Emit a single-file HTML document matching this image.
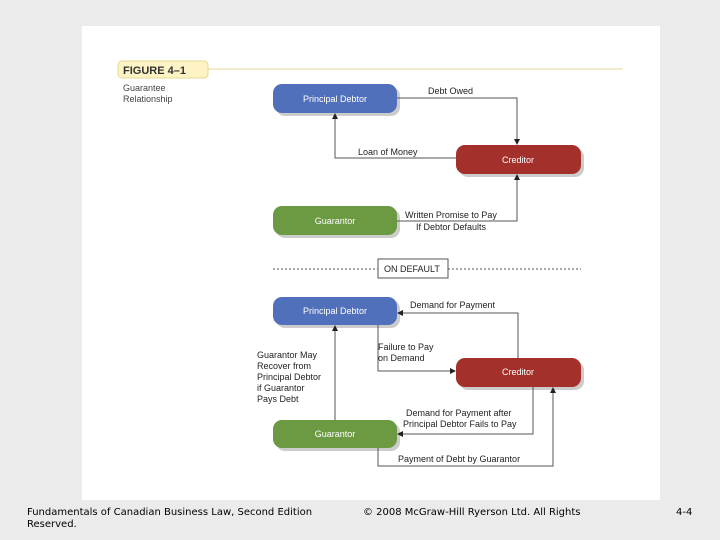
<!DOCTYPE html>
<html><head><style>
body{margin:0;width:720px;height:540px;background:#ebebeb;overflow:hidden;position:relative;font-family:"DejaVu Sans","Liberation Sans",sans-serif}
.f{position:absolute;font-size:10px;color:#000;line-height:12px}
</style></head><body>
<svg width="720" height="540" style="position:absolute;left:0;top:0">
<defs><marker id="a" markerWidth="6" markerHeight="6" refX="5" refY="3" orient="auto"><path d="M0,0L6,3L0,6z" fill="#222"/></marker></defs>
<rect x="82" y="26" width="578" height="474" fill="#fff"/>
<rect x="118" y="61" width="90" height="17" rx="4" fill="#fdf3c4" stroke="#e6d890"/>
<line x1="208" y1="69" x2="623" y2="69" stroke="#e6d890"/>
<text x="123" y="74" font-family="Liberation Sans" font-weight="bold" font-size="11" fill="#333">FIGURE 4–1</text>
<text x="123" y="91" font-family="Liberation Sans" font-size="9" fill="#444">Guarantee</text>
<text x="123" y="102" font-family="Liberation Sans" font-size="9" fill="#444">Relationship</text>
<g font-family="Liberation Sans" font-size="9" fill="#fff" text-anchor="middle">
<rect x="276" y="87" width="124" height="29" rx="9" fill="#ccc"/><rect x="273" y="84" width="124" height="29" rx="9" fill="#5170bb"/><text x="335" y="102">Principal Debtor</text>
<rect x="459" y="148" width="125" height="29" rx="9" fill="#ccc"/><rect x="456" y="145" width="125" height="29" rx="9" fill="#a3302a"/><text x="518" y="163">Creditor</text>
<rect x="276" y="209" width="124" height="29" rx="9" fill="#ccc"/><rect x="273" y="206" width="124" height="29" rx="9" fill="#6b9a42"/><text x="335" y="224">Guarantor</text>
<rect x="276" y="300" width="124" height="28" rx="9" fill="#ccc"/><rect x="273" y="297" width="124" height="28" rx="9" fill="#5170bb"/><text x="335" y="314">Principal Debtor</text>
<rect x="459" y="361" width="125" height="29" rx="9" fill="#ccc"/><rect x="456" y="358" width="125" height="29" rx="9" fill="#a3302a"/><text x="518" y="375">Creditor</text>
<rect x="276" y="423" width="124" height="28" rx="9" fill="#ccc"/><rect x="273" y="420" width="124" height="28" rx="9" fill="#6b9a42"/><text x="335" y="437">Guarantor</text>
</g>
<g stroke="#555" stroke-width="1" fill="none" marker-end="url(#a)">
<path d="M397,98H517V144"/>
<path d="M456,158H335V114"/>
<path d="M397,221H517V175"/>
<path d="M518,358V313H398"/>
<path d="M378,325V371H455"/>
<path d="M335,420V326"/>
<path d="M533,387V434H398"/>
<path d="M378,448V466H553V388"/>
</g>
<g stroke="#555" stroke-dasharray="2,2"><line x1="273" y1="269" x2="378" y2="269"/><line x1="448" y1="269" x2="581" y2="269"/></g>
<rect x="378" y="259" width="70" height="19" fill="#fff" stroke="#555"/>
<g font-family="Liberation Sans" font-size="9" fill="#222">
<text x="384" y="272">ON DEFAULT</text>
<text x="428" y="94">Debt Owed</text>
<text x="358" y="155">Loan of Money</text>
<text x="405" y="218">Written Promise to Pay</text>
<text x="416" y="230">If Debtor Defaults</text>
<text x="410" y="308">Demand for Payment</text>
<text x="378" y="350">Failure to Pay</text>
<text x="378" y="361">on Demand</text>
<text x="257" y="358">Guarantor May</text>
<text x="257" y="369">Recover from</text>
<text x="257" y="380">Principal Debtor</text>
<text x="257" y="391">if Guarantor</text>
<text x="257" y="402">Pays Debt</text>
<text x="406" y="416">Demand for Payment after</text>
<text x="403" y="427">Principal Debtor Fails to Pay</text>
<text x="398" y="462">Payment of Debt by Guarantor</text>
</g>
</svg>
<div class="f" style="left:27px;top:507px">Fundamentals of Canadian Business Law, Second Edition<br>Reserved.</div>
<div class="f" style="left:363px;top:507px">© 2008 McGraw-Hill Ryerson Ltd.  All Rights</div>
<div class="f" style="left:676px;top:507px">4-4</div>
</body></html>
